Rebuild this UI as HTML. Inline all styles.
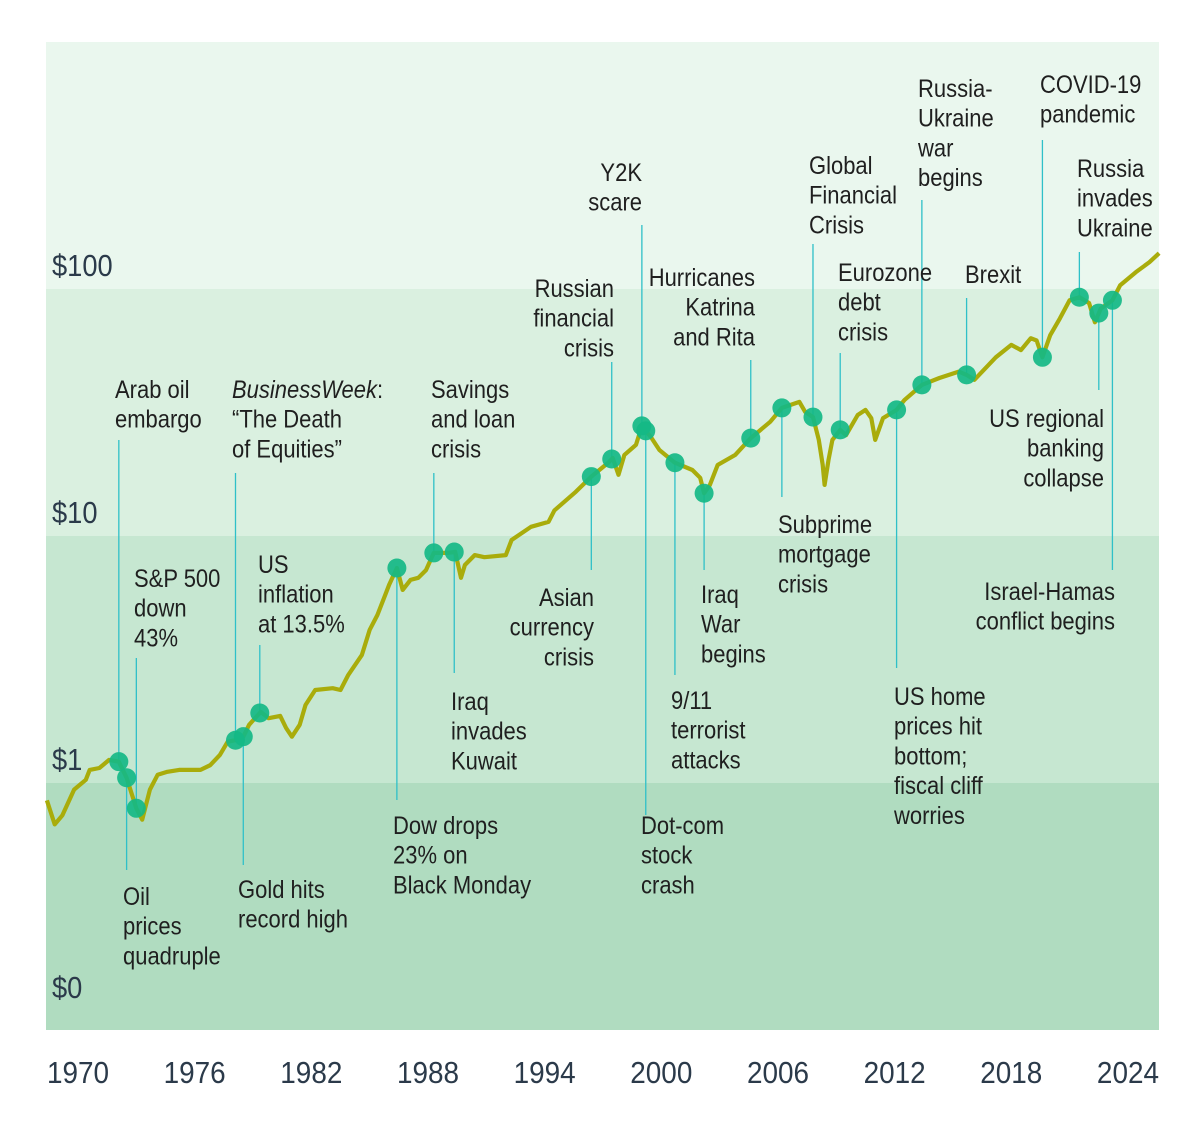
<!DOCTYPE html>
<html><head><meta charset="utf-8"><style>
html,body{margin:0;padding:0;background:#fff}
svg{display:block}
.lbl{font-family:"Liberation Sans Narrow","Liberation Sans",sans-serif;font-size:25px;fill:#1f1f1f}
.ax{font-family:"Liberation Sans Narrow","Liberation Sans",sans-serif;font-size:31px;fill:#2b3a4a}
</style></head><body>
<svg id="chart" width="1201" height="1138" viewBox="0 0 1201 1138" xmlns="http://www.w3.org/2000/svg">
<rect x="46" y="42" width="1113" height="247" fill="#eaf7ee"/>
<rect x="46" y="289" width="1113" height="247" fill="#daf0e0"/>
<rect x="46" y="536" width="1113" height="247" fill="#c6e7d1"/>
<rect x="46" y="783" width="1113" height="247" fill="#b0dcc0"/>
<g id="yaxis"></g>
<g id="xaxis"></g>
<g id="leaders"></g>
<path id="line" fill="none" stroke="#a9ac0b" stroke-width="4.2" stroke-linejoin="round"/>
<g id="dots"></g>
<g id="labels"></g>
</svg>
<script>
const years=[1968.4,1968.8,1969.2,1969.8,1970.4,1970.6,1971.1,1971.6,1972.1,1972.5,1973.0,1973.3,1973.7,1974.1,1974.6,1975.2,1976.3,1976.8,1977.3,1977.7,1978.1,1978.5,1978.8,1979.4,1979.8,1980.4,1980.7,1981.0,1981.4,1981.7,1982.2,1983.1,1983.5,1983.9,1984.6,1985.0,1985.4,1985.8,1986.0,1986.4,1986.7,1987.1,1987.5,1987.9,1988.3,1989.0,1989.4,1989.7,1989.9,1990.4,1990.9,1992.0,1992.3,1993.3,1994.2,1994.5,1995.6,1996.4,1997.3,1997.5,1997.8,1998.1,1998.7,1999.0,1999.5,1999.9,2000.7,2001.6,2002.0,2002.2,2002.5,2002.9,2003.8,2004.6,2005.6,2006.2,2007.1,2007.4,2007.8,2008.1,2008.3,2008.4,2008.6,2008.8,2009.2,2009.5,2010.1,2010.5,2010.8,2011.0,2011.4,2012.1,2012.5,2013.4,2014.3,2015.3,2015.7,2016.1,2017.2,2018.0,2018.5,2019.0,2019.3,2019.6,2020.0,2020.5,2021.0,2021.5,2022.0,2022.3,2022.6,2023.2,2023.6,2024.4,2025.1,2025.6];
const values=[0.85,0.68,0.74,0.94,1.03,1.13,1.15,1.24,1.22,1.05,0.79,0.71,0.94,1.08,1.11,1.13,1.13,1.18,1.30,1.47,1.49,1.54,1.72,1.94,1.83,1.87,1.67,1.54,1.72,2.07,2.38,2.42,2.38,2.74,3.30,4.17,4.79,5.77,6.34,7.42,6.05,6.64,6.77,7.28,8.54,8.54,8.62,6.77,7.63,8.37,8.21,8.37,9.63,10.9,11.4,12.7,15.1,17.4,19.9,20.7,17.7,21.3,23.4,27.9,24.9,22.3,19.8,18.5,17.2,14.9,16.1,19.4,21.3,24.9,29.0,33.0,34.9,31.8,30.3,24.5,19.4,16.1,20.3,24.5,26.9,25.6,30.9,32.4,30.0,24.5,30.0,32.4,35.5,40.9,43.6,46.3,44.9,42.9,52.9,59.4,56.6,63.2,61.9,52.9,65.0,76.0,90.0,92.6,87.7,73.3,83.4,90.0,103.6,116.9,128.4,139.6];
const yTickValues=[100,10,1];
const yTickLabels=["$100","$10","$1"];
const xTicks=[1970,1976,1982,1988,1994,2000,2006,2012,2018,2024];
const eventYears=[1972.1,1972.5,1973.0,1978.1,1978.5,1979.35,1986.4,1988.3,1989.35,1996.4,1997.45,1999.0,1999.2,2000.7,2002.2,2004.6,2006.2,2007.8,2009.2,2012.1,2013.4,2015.7,2019.6,2021.5,2022.5,2023.2];
const eventText=[["Arab oil","embargo"],["Oil","prices","quadruple"],["S&P 500","down","43%"],["BusinessWeek:","“The Death","of Equities”"],["Gold hits","record high"],["US","inflation","at 13.5%"],["Dow drops","23% on","Black Monday"],["Savings","and loan","crisis"],["Iraq","invades","Kuwait"],["Asian","currency","crisis"],["Russian","financial","crisis"],["Y2K","scare"],["Dot-com","stock","crash"],["9/11","terrorist","attacks"],["Iraq","War","begins"],["Hurricanes","Katrina","and Rita"],["Subprime","mortgage","crisis"],["Global","Financial","Crisis"],["Eurozone","debt","crisis"],["US home","prices hit","bottom;","fiscal cliff","worries"],["Russia-","Ukraine","war","begins"],["Brexit"],["COVID-19","pandemic"],["Russia","invades","Ukraine"],["US regional","banking","collapse"],["Israel-Hamas","conflict begins"]];
// layout: [labelX, firstBaseline, anchor, leaderEndY]
const layout=[[115,398,"start",440],[123,905,"start",870],[134,587,"start",658],[232,398,"start",473],[238,898,"start",865],[258,573,"start",645],[393,834,"start",800],[431,398,"start",473],[451,710,"start",673],[594,606,"end",570],[614,297,"end",362],[642,181,"end",225],[641,834,"start",815],[671,709,"start",675],[701,603,"start",570],[755,286,"end",360],[778,533,"start",497],[809,174,"start",244],[838,281,"start",353],[894,705,"start",668],[918,97,"start",200],[965,283,"start",298],[1040,93,"start",140],[1077,177,"start",252],[1104,427,"end",390],[1115,600,"end",570]];
const NS="http://www.w3.org/2000/svg";
const SX=0.88;
const X=y=>78+(y-1970)*19.444;
const Y=v=>783-247*Math.log10(v);
function squeeze(el,x,s){el.setAttribute('transform','translate('+x+',0) scale('+s+',1) translate('+(-x)+',0)');}
function interp(t){for(let i=1;i<years.length;i++){if(t<=years[i]){const f=(t-years[i-1])/(years[i]-years[i-1]);return Math.pow(10,Math.log10(values[i-1])+f*(Math.log10(values[i])-Math.log10(values[i-1])));}}return values[values.length-1];}
document.getElementById('line').setAttribute('d',years.map((t,i)=>(i?'L':'M')+X(t).toFixed(1)+','+Y(values[i]).toFixed(1)).join(''));
const ya=document.getElementById('yaxis');
yTickValues.forEach((v,i)=>{const t=document.createElementNS(NS,'text');


t.setAttribute('class','ax');t.setAttribute('x',52);t.setAttribute('y',Y(v)-13);t.textContent=yTickLabels[i];squeeze(t,52,0.88);ya.appendChild(t);});
const t0=document.createElementNS(NS,'text');


t0.setAttribute('class','ax');t0.setAttribute('x',52);t0.setAttribute('y',998);t0.textContent="$0";squeeze(t0,52,0.88);ya.appendChild(t0);
const xa=document.getElementById('xaxis');
xTicks.forEach(yr=>{const t=document.createElementNS(NS,'text');


t.setAttribute('class','ax');t.setAttribute('x',X(yr));t.setAttribute('y',1083);t.setAttribute('text-anchor','middle');t.textContent=yr;squeeze(t,X(yr),0.9);xa.appendChild(t);});
const lg=document.getElementById('leaders'),dg=document.getElementById('dots'),lb=document.getElementById('labels');
eventYears.forEach((yr,i)=>{const cx=X(yr),cy=Y(interp(yr));const L=layout[i];
const ln=document.createElementNS(NS,'line');


ln.setAttribute('x1',cx);ln.setAttribute('x2',cx);ln.setAttribute('y1',cy);ln.setAttribute('y2',L[3]);ln.setAttribute('stroke','#2fc0c8');ln.setAttribute('stroke-width','1.3');lg.appendChild(ln);
const c=document.createElementNS(NS,'circle');


c.setAttribute('cx',cx);c.setAttribute('cy',cy);c.setAttribute('r',9.5);c.setAttribute('fill','#15b886');c.setAttribute('fill-opacity','0.92');dg.appendChild(c);
const t=document.createElementNS(NS,'text');


t.setAttribute('class','lbl');t.setAttribute('text-anchor',L[2]);
eventText[i].forEach((s,j)=>{const ts=document.createElementNS(NS,'tspan');ts.setAttribute('x',L[0]);ts.setAttribute('y',L[1]+j*29.7);
if(s==="BusinessWeek:"){const it=document.createElementNS(NS,'tspan');it.setAttribute('font-style','italic');it.textContent="BusinessWeek";ts.appendChild(it);ts.appendChild(document.createTextNode(":"));}else ts.textContent=s;t.appendChild(ts);});
squeeze(t,L[0],SX);
lb.appendChild(t);});
</script>
</body></html>
